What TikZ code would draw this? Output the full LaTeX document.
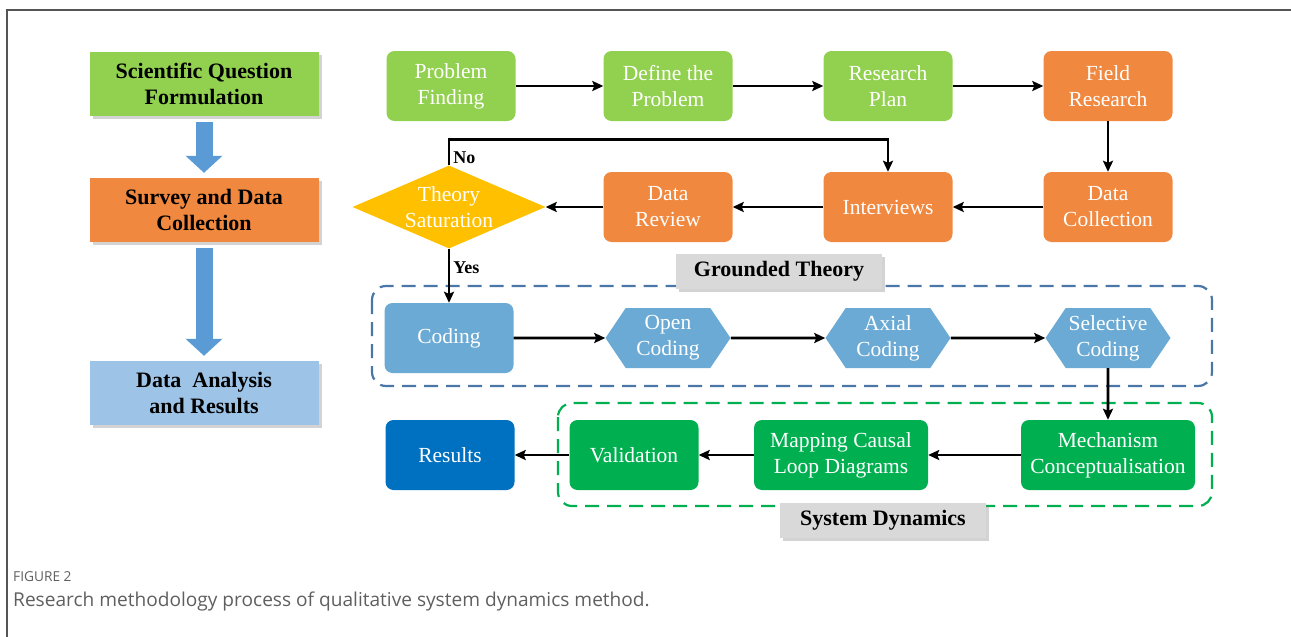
\documentclass[tikz,border=0pt]{standalone}
\usepackage{fontspec}
\setmainfont{Liberation Serif}
\newfontfamily\capfont{Open Sans}
\usetikzlibrary{arrows.meta,shapes.geometric,shapes.symbols,shadows}

\definecolor{lgreen}{HTML}{92D050}
\definecolor{orng}{HTML}{F0883F}
\definecolor{gold}{HTML}{FFC000}
\definecolor{cblue}{HTML}{6BAAD4}
\definecolor{pblue}{HTML}{9DC3E6}
\definecolor{barblue}{HTML}{5B9BD5}
\definecolor{dblue}{HTML}{0070C0}
\definecolor{dgreen}{HTML}{00B050}
\definecolor{tagray}{HTML}{D9D9D9}
\definecolor{gtline}{HTML}{4A76A8}
\definecolor{framegray}{HTML}{555555}
\definecolor{capgray}{HTML}{5F5F5F}

\tikzset{
  txt/.style={font=\fontsize{21.5}{26}\selectfont},
  box/.style={txt, rounded corners=8pt, minimum width=129pt, minimum height=70pt,
    text=white, align=center, inner sep=2pt},
  hexa/.style={txt, signal, signal to=west and east, signal pointer angle=112,
    minimum width=125pt, minimum height=60pt, fill=cblue, text=white, align=center,
    inner xsep=0pt},
  decision/.style={diamond, fill=gold, minimum width=193pt, minimum height=83pt, inner sep=0pt},
  stage/.style={bfseries, minimum width=229pt, minimum height=64pt, align=center,
    drop shadow={shadow xshift=3pt, shadow yshift=-3pt, opacity=.35}},
  tag/.style={bfseries, fill=tagray, minimum width=206pt, minimum height=35pt,
    drop shadow={shadow xshift=3pt, shadow yshift=-3pt, opacity=.35}},
  yn/.style={font=\bfseries\fontsize{18}{20}\selectfont, inner sep=3pt},
  flow/.style={line width=2.9pt, -{Stealth[length=11pt,width=10pt,inset=2pt]}},
  bigarrow/.style={line width=17pt, draw=barblue, -{Triangle[length=17pt,width=36pt]},
    shorten <=6pt, shorten >=5pt},
  group/.style={line width=2.2pt, dash pattern=on 14pt off 8pt, rounded corners=14pt},
  bfseries/.style={font=\bfseries\fontsize{22}{26}\selectfont}
}

\begin{document}
\begin{tikzpicture}[x=1pt,y=-1pt]
\useasboundingbox (0,0) rectangle (1291,637);
\draw[framegray, line width=1.2pt] (7,637) -- (7,10) -- (1291,10);

% overview column
\node[stage, fill=lgreen] (sq) at (204,84) {Scientific Question\\Formulation};
\node[stage, fill=orng] (sd) at (204,210) {Survey and Data\\Collection};
\node[stage, fill=pblue] (da) at (204,393) {Data\ \ Analysis\\and Results};
\draw[bigarrow] (sq) -- (sd);
\draw[bigarrow] (sd) -- (da);

% dashed groups
\draw[group, gtline] (372,286) rectangle (1212,386);
\draw[group, dgreen] (558,403) rectangle (1212,506);
\node[tag] (gt) at (779,271) {Grounded Theory};
\node[tag] (sdy) at (883,520) {System Dynamics};

% grounded theory
\node[box, fill=lgreen] (pf) at (451,86) {Problem\\Finding};
\node[box, fill=lgreen] (dp) at (668,86) {Define the\\Problem};
\node[box, fill=lgreen] (rp) at (888,86) {Research\\Plan};
\node[box, fill=orng] (fr) at (1108,86) {Field\\Research};
\node[box, fill=orng] (dc) at (1108,207) {Data\\Collection};
\node[box, fill=orng] (iv) at (888,207) {Interviews};
\node[box, fill=orng] (dr) at (668,207) {Data\\Review};
\node[decision, label={[txt, text=white, align=center]center:Theory\\Saturation}] (ts) at (449,207) {};

\node[box, fill=cblue] (cod) at (449,338) {Coding};
\node[hexa] (oc) at (668,338) {Open\\Coding};
\node[hexa] (ac) at (888,338) {Axial\\Coding};
\node[hexa] (sc) at (1108,338) {Selective\\Coding};

% system dynamics
\node[box, fill=dgreen, minimum width=174pt] (mc) at (1108,455) {Mechanism\\Conceptualisation};
\node[box, fill=dgreen, minimum width=174pt] (mcl) at (841,455) {Mapping Causal\\Loop Diagrams};
\node[box, fill=dgreen] (val) at (634,455) {Validation};
\node[box, fill=dblue] (res) at (450,455) {Results};

\path[flow]
  (pf) edge (dp)
  (dp) edge (rp)
  (rp) edge (fr)
  (fr) edge (dc)
  (dc) edge (iv)
  (iv) edge (dr)
  (dr) edge (ts)
  (ts) edge node[yn, right, pos=.35] {Yes} (cod)
  (cod) edge (oc)
  (oc) edge (ac)
  (ac) edge (sc)
  (sc) edge (mc)
  (mc) edge (mcl)
  (mcl) edge (val)
  (val) edge (res);
\draw[flow] (ts.north) -- node[yn, right, pos=.3] {No} ++(0,-26) -| (iv.north);

\node[anchor=base west, inner sep=0pt, text=capgray, font=\capfont\fontsize{13.7}{16}\selectfont] (fig) at (13,581) {FIGURE 2};
\node[anchor=base west, inner sep=0pt, text=capgray, font=\capfont\fontsize{19.1}{22}\selectfont] (cap) at (13,606) {Research methodology process of qualitative system dynamics method.};
\end{tikzpicture}
\end{document}
